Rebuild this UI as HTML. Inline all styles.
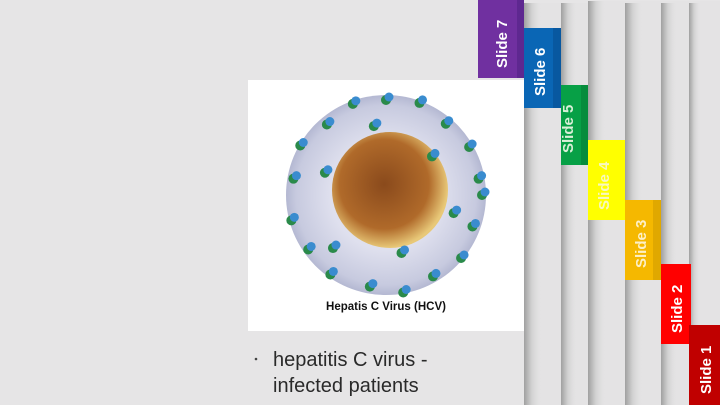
<!DOCTYPE html>
<html><head><meta charset="utf-8"><style>
html,body{margin:0;padding:0}
body{width:720px;height:405px;overflow:hidden;background:#e6e5e6;font-family:"Liberation Sans",sans-serif;position:relative}
</style></head><body>
<svg width="720" height="405" style="position:absolute;left:0;top:0">
<defs>
<linearGradient id="sh" x1="0" x2="1"><stop offset="0" stop-color="#a0a0a0"/><stop offset="0.4" stop-color="#cfcfcf"/><stop offset="1" stop-color="#e4e3e4" stop-opacity="0"/></linearGradient>
<radialGradient id="shell" cx="0.5" cy="0.5" r="0.5"><stop offset="0.55" stop-color="#dfe0ee"/><stop offset="0.9" stop-color="#c7cadf"/><stop offset="1" stop-color="#b4b8d2"/></radialGradient>
<radialGradient id="core" cx="0.45" cy="0.45" r="0.55"><stop offset="0" stop-color="#8a4a1c"/><stop offset="0.7" stop-color="#b06a2a"/><stop offset="1" stop-color="#e8c878"/></radialGradient>
</defs>
<g>
<rect x="524" y="3" width="196" height="402" fill="#e4e3e4"/>
<rect x="524" y="3" width="18" height="402" fill="url(#sh)"/>
<rect x="561" y="3" width="159" height="402" fill="#e4e3e4"/>
<rect x="561" y="3" width="16" height="402" fill="url(#sh)"/>
<rect x="588" y="1" width="132" height="404" fill="#e4e3e4"/>
<rect x="588" y="1" width="18" height="404" fill="url(#sh)"/>
<rect x="625" y="3" width="95" height="402" fill="#e4e3e4"/>
<rect x="625" y="3" width="18" height="402" fill="url(#sh)"/>
<rect x="661" y="3" width="59" height="402" fill="#e4e3e4"/>
<rect x="661" y="3" width="16" height="402" fill="url(#sh)"/>
<rect x="689" y="3" width="31" height="402" fill="#e4e3e4"/>
<rect x="689" y="3" width="12" height="402" fill="url(#sh)"/>
</g>
<g font-weight="bold" font-size="15" fill="#fff">
<g><rect x="478" y="0" width="46" height="78" fill="#7030a0"/><rect x="517" y="0" width="7" height="78" fill="#5e2890"/><text transform="translate(507,68) rotate(-90)">Slide 7</text></g>
<g><rect x="524" y="28" width="37" height="80" fill="#0a66b5"/><rect x="553" y="28" width="8" height="80" fill="#0858a0"/><text transform="translate(545,96) rotate(-90)">Slide 6</text></g>
<g><rect x="561" y="85" width="27" height="80" fill="#07a046"/><rect x="581" y="85" width="7" height="80" fill="#068c3c"/><text transform="translate(573,153) rotate(-90)" fill="#d8efd8">Slide 5</text></g>
<g><rect x="588" y="140" width="37" height="80" fill="#ffff00"/><text transform="translate(609,210) rotate(-90)" fill="#f8f8c0">Slide 4</text></g>
<g><rect x="625" y="200" width="36" height="80" fill="#f5b800"/><rect x="653" y="200" width="8" height="80" fill="#e0a800"/><text transform="translate(646,268) rotate(-90)" fill="#fdf0c8">Slide 3</text></g>
<g><rect x="661" y="264" width="30" height="80" fill="#ff0000"/><text transform="translate(682,333) rotate(-90)">Slide 2</text></g>
<g><rect x="689" y="325" width="31" height="80" fill="#c00000"/><text transform="translate(711,394) rotate(-90)">Slide 1</text></g>
</g>
<g>
<rect x="248" y="80" width="276" height="251" fill="#fff"/>
<circle cx="386" cy="195" r="100" fill="url(#shell)"/>
<circle cx="390" cy="190" r="58" fill="url(#core)"/>
<g id="spikes"></g>
<text x="386" y="310" text-anchor="middle" font-size="11.5" font-weight="bold" fill="#111">Hepatis C Virus (HCV)</text>
</g>
<g font-size="20" fill="#2a2a2a">
<circle cx="256" cy="359" r="1.3" fill="#444"/>
<text x="273" y="366">hepatitis C virus -</text>
<text x="273" y="392">infected patients</text>
</g>
</svg>
<script>
var g=document.getElementById('spikes');
var ang=[0,20,40,60,80,100,125,145,165,190,210,230,250,270,290,310,330,350,15,75,135,200,260,320];
var rad=[96,92,98,94,99,93,97,95,98,94,99,92,97,95,98,93,96,94,70,60,75,65,70,60];
ang.forEach(function(a,i){
  var r=rad[i],t=a*Math.PI/180;
  var x=386+r*Math.cos(t),y=195+r*Math.sin(t);
  var c1=document.createElementNS('http://www.w3.org/2000/svg','circle');
  c1.setAttribute('cx',x);c1.setAttribute('cy',y);c1.setAttribute('r',5);c1.setAttribute('fill','#2a8a4a');
  
  
  g.appendChild(c1);
  var c2=document.createElementNS('http://www.w3.org/2000/svg','circle');
  c2.setAttribute('cx',x+3);c2.setAttribute('cy',y-3);c2.setAttribute('r',4.5);c2.setAttribute('fill','#3a8ccf');
  
  
  g.appendChild(c2);
});
</script>
</body></html>
